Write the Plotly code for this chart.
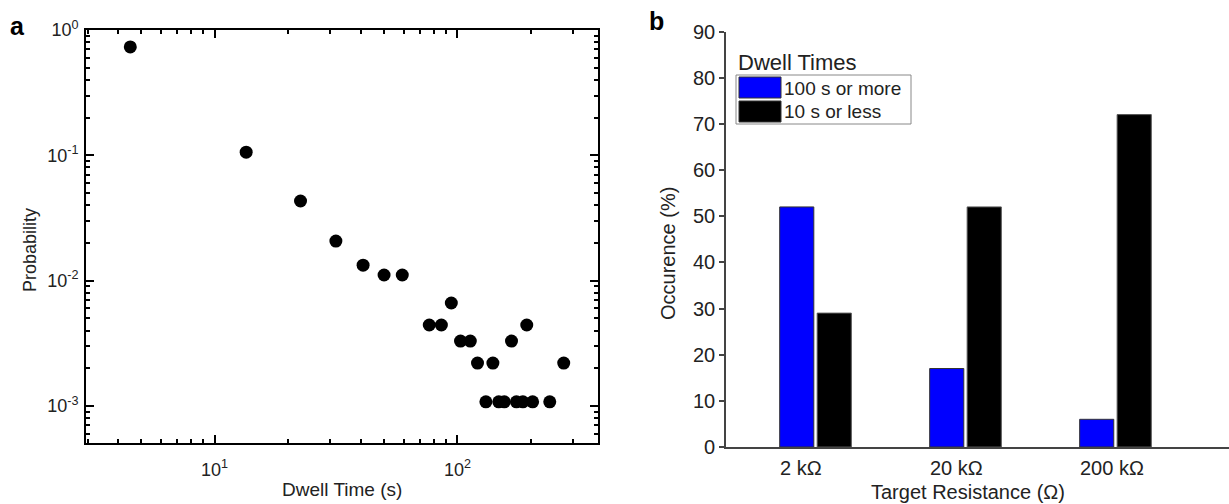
import plotly.graph_objects as go

# Panel a: dwell-time distribution (log-log)
dwell_time_s = [4.5, 13.5, 22.6, 31.6, 40.9, 49.9, 59.3, 76.6, 85.9, 94.4, 103, 113,
                121, 131, 140, 148, 156, 167, 175, 186, 193, 204, 240, 274]
probability = [0.732, 0.106, 0.0432, 0.0207, 0.0133, 0.0111, 0.0111, 0.00443, 0.00443,
               0.00664, 0.0033, 0.0033, 0.0022, 0.00108, 0.0022, 0.00108, 0.00108,
               0.0033, 0.00108, 0.00108, 0.00443, 0.00108, 0.00108, 0.0022]

x_major = [10, 100]
x_major_text = ["10<sup>1</sup>", "10<sup>2</sup>"]
y_major = [1e-3, 1e-2, 1e-1, 1]
y_major_text = ["10<sup>-3</sup>", "10<sup>-2</sup>", "10<sup>-1</sup>", "10<sup>0</sup>"]

# Panel b: occurrence of long/short dwell times per target resistance
targets = ["2 kΩ", "20 kΩ", "200 kΩ"]
long_dwell_pct = [52, 17, 6]
short_dwell_pct = [29, 52, 72]
long_name = "100 s or more"
short_name = "10 s or less"
legend_title = "Dwell Times"

FONT = "Arial, Liberation Sans, sans-serif"
INK = "#222222"

x_minor = [m * d for d in (1, 10, 100) for m in range(2, 10) if 2.9 <= m * d <= 390]
y_minor = [m * d for d in (1e-4, 1e-3, 1e-2, 1e-1) for m in range(2, 10) if 4.9e-4 <= m * d <= 1]

fig = go.Figure()

fig.add_trace(go.Scatter(
    x=dwell_time_s, y=probability, mode="markers",
    marker=dict(color="black", size=13),
    xaxis="x", yaxis="y", showlegend=False,
))

fig.add_trace(go.Bar(
    x=targets, y=long_dwell_pct, name=long_name,
    marker=dict(color="#0000ff", line=dict(color="#333333", width=1)),
    xaxis="x2", yaxis="y2", showlegend=False,
))
fig.add_trace(go.Bar(
    x=targets, y=short_dwell_pct, name=short_name,
    marker=dict(color="#000000", line=dict(color="#555555", width=1)),
    xaxis="x2", yaxis="y2", showlegend=False,
))

frame_a = dict(showline=True, linecolor="black", linewidth=2, mirror="ticks",
               ticks="inside", ticklen=8, tickwidth=2, tickcolor="black",
               showgrid=False, zeroline=False,
               tickfont=dict(family=FONT, size=18, color=INK))

fig.update_layout(
    width=1229, height=504,
    margin=dict(l=0, r=0, t=0, b=0, autoexpand=False),
    plot_bgcolor="white", paper_bgcolor="white",
    barmode="group", bargap=0.5, bargroupgap=0.09,
    xaxis=dict(type="log", domain=[0.0700, 0.4866], range=[0.471, 2.579],
               tickmode="array", tickvals=x_major, ticktext=x_major_text,
               ticklabelstandoff=9,
               minor=dict(tickmode="array", tickvals=x_minor, ticks="inside",
                          ticklen=4, tickwidth=1.5, tickcolor="black"),
               anchor="y", **frame_a),
    yaxis=dict(type="log", domain=[0.1210, 0.9405], range=[-3.295, 0],
               tickmode="array", tickvals=y_major, ticktext=y_major_text,
               ticklabelstandoff=2,
               minor=dict(tickmode="array", tickvals=y_minor, ticks="inside",
                          ticklen=4, tickwidth=1.5, tickcolor="black"),
               anchor="x", **frame_a),
    xaxis2=dict(domain=[0.5907, 1.0], range=[-0.597, 2.757], anchor="y2",
                showline=True, linecolor="#444444", linewidth=1.5,
                ticks="", showgrid=False, zeroline=False, showticklabels=False),
    yaxis2=dict(domain=[0.1131, 0.9375], range=[0, 90], anchor="x2",
                tickmode="array", tickvals=list(range(0, 91, 10)),
                showline=True, linecolor="#444444", linewidth=1.5,
                ticks="outside", ticklen=5, tickwidth=1.5, tickcolor="#444444",
                showgrid=False, zeroline=False,
                tickfont=dict(family=FONT, size=20, color=INK)),
)

annotations = [
    dict(text="<b>a</b>", x=17 / 1229, y=1 - 26 / 504, font=dict(size=25, family=FONT, color="black")),
    dict(text="<b>b</b>", x=656 / 1229, y=1 - 21 / 504, font=dict(size=25, family=FONT, color="black")),
    dict(text="Dwell Time (s)", x=342 / 1229, y=1 - 489 / 504, font=dict(size=19, family=FONT, color=INK)),
    dict(text="Probability", x=30 / 1229, y=1 - 250 / 504, textangle=-90,
         font=dict(size=18, family=FONT, color=INK)),
    dict(text="Target Resistance (Ω)", x=968 / 1229, y=1 - 492 / 504, font=dict(size=20, family=FONT, color=INK)),
    dict(text="Occurence (%)", x=668 / 1229, y=1 - 254 / 504, textangle=-90,
         font=dict(size=20, family=FONT, color=INK)),
    dict(text=legend_title, x=736 / 1229, y=1 - 62 / 504, xanchor="left",
         font=dict(size=22, family=FONT, color=INK)),
    dict(text=long_name, x=782 / 1229, y=1 - 88 / 504, xanchor="left",
         font=dict(size=19, family=FONT, color=INK)),
    dict(text=short_name, x=782 / 1229, y=1 - 111 / 504, xanchor="left",
         font=dict(size=19, family=FONT, color=INK)),
]
for a in annotations:
    a.setdefault("xanchor", "center")
    a.update(xref="paper", yref="paper")

# Category labels start at the left edge of each bar group
for i, label in enumerate(targets):
    annotations.append(dict(text=label, x=i - 0.25, xref="x2", xanchor="left",
                            y=1 - 468 / 504, yref="paper",
                            font=dict(size=20, family=FONT, color=INK)))

for a in annotations:
    a.update(yanchor="middle", showarrow=False)
fig.update_layout(annotations=annotations)

# Legend frame and colour swatches
def px(xp, yp):
    return xp / 1229, 1 - yp / 504

shapes = []
x0, y0 = px(736, 75)
x1, y1 = px(911, 124)
shapes.append(dict(type="rect", xref="paper", yref="paper", x0=x0, y0=y1, x1=x1, y1=y0,
                   line=dict(color="#888888", width=1), fillcolor="rgba(0,0,0,0)"))
for (top, bot), col in (((77, 98), "#0000ff"), ((101, 122), "#000000")):
    sx0, sy0 = px(739, top)
    sx1, sy1 = px(781, bot)
    shapes.append(dict(type="rect", xref="paper", yref="paper", x0=sx0, y0=sy1, x1=sx1, y1=sy0,
                       line=dict(color="#333333", width=1), fillcolor=col))
fig.update_layout(shapes=shapes)

fig.write_html("out.html")
